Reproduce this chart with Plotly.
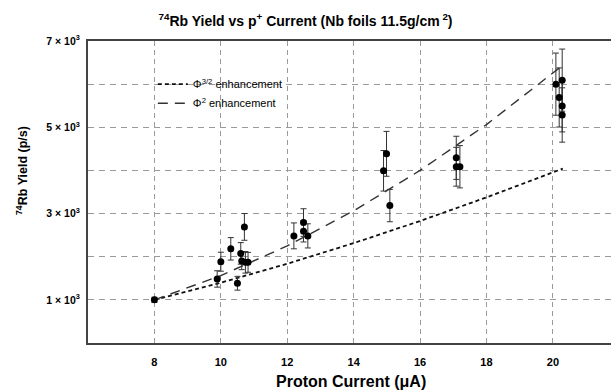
import plotly.graph_objects as go

# Measured data
current = [8.0, 9.89, 10.0, 10.30, 10.50, 10.60, 10.63, 10.71, 10.74, 10.82,
           12.2, 12.49, 12.49, 12.62, 14.90, 14.99, 15.09, 17.09, 17.09, 17.2,
           20.09, 20.19, 20.28, 20.28, 20.28]
yield_ps = [1000, 1484, 1884, 2183, 1385, 2077, 1900, 2691, 1870, 1870,
            2483, 2792, 2592, 2483, 3992, 4385, 3185, 4292, 4085, 4085,
            6000, 5691, 6093, 5493, 5285]
yield_err = [60, 190, 220, 260, 160, 250, 200, 310, 250, 230,
             300, 320, 250, 280, 470, 520, 375, 500, 450, 490,
             720, 685, 720, 600, 630]

# Enhancement curves
curve_x = [8, 10, 12, 14, 16, 18, 20.3]
phi32_y = [1000, 1398, 1837, 2315, 2828, 3375, 4042]
phi2_y = [1000, 1563, 2250, 3063, 4000, 5063, 6439]

x_ticks = [8, 10, 12, 14, 16, 18, 20]
y_ticks = [1000, 2000, 3000, 4000, 5000, 6000, 7000]
y_ticktext = ["1 × 10<sup>3</sup>", "", "3 × 10<sup>3</sup>", "",
              "5 × 10<sup>3</sup>", "", "7 × 10<sup>3</sup>"]

FONT = "Liberation Sans, Arial, sans-serif"

fig = go.Figure()
fig.add_trace(go.Scatter(
    x=curve_x, y=phi32_y, mode="lines", name="Φ<sup>3/2</sup> enhancement",
    line=dict(color="#111", width=1.8, dash="4px,3px"), hoverinfo="skip"))
fig.add_trace(go.Scatter(
    x=curve_x, y=phi2_y, mode="lines", name="Φ<sup>2</sup> enhancement",
    line=dict(color="#333", width=1.4, dash="10px,7px"), hoverinfo="skip"))
fig.add_trace(go.Scatter(
    x=current, y=yield_ps, mode="markers", showlegend=False,
    marker=dict(color="black", size=7),
    error_y=dict(type="data", array=yield_err, visible=True,
                 color="#333", thickness=1, width=3)))

fig.update_layout(
    width=611, height=391,
    margin=dict(l=88, r=0, t=41, b=48),
    paper_bgcolor="white", plot_bgcolor="white",
    font=dict(family=FONT, color="black"),
    title=dict(text="<b><sup>74</sup>Rb Yield vs p<sup>+</sup> Current (Nb foils 11.5g/cm<sup> 2</sup>)</b>",
               x=0.5, xref="container", xanchor="center",
               y=1 - 21 / 391, yref="container", yanchor="middle",
               font=dict(size=14, family=FONT, color="black")),
    showlegend=True,
    legend=dict(x=0.124, y=0.905, xanchor="left", yanchor="top",
                bgcolor="rgba(0,0,0,0)", borderwidth=0,
                font=dict(size=11, family=FONT, color="black"),
                tracegroupgap=0),
    xaxis=dict(range=[6, 21.75], tickvals=x_ticks,
               ticktext=["<b>%d</b>" % v for v in x_ticks],
               tickfont=dict(size=11, family=FONT, color="black"),
               ticks="outside", ticklen=8, tickcolor="rgba(0,0,0,0)",
               showgrid=True, gridcolor="#9a9a9a", gridwidth=1, griddash="5px,4px",
               showline=True, linecolor="#444", linewidth=2, mirror=True,
               zeroline=False),
    yaxis=dict(range=[0, 7000], tickvals=y_ticks,
               ticktext=["<b>%s</b>" % t if t else "" for t in y_ticktext],
               tickfont=dict(size=10.5, family=FONT, color="black"),
               ticks="outside", ticklen=4, tickcolor="rgba(0,0,0,0)",
               showgrid=True, gridcolor="#9a9a9a", gridwidth=1, griddash="6px,5px",
               showline=True, linecolor="#444", linewidth=2, mirror=False,
               zeroline=False),
    annotations=[
        dict(text="<b>Proton Current (μA)</b>", xref="paper", yref="paper",
             x=(351 - 88) / 523, y=-(381 - 343) / 302, xanchor="center", yanchor="middle",
             showarrow=False, font=dict(size=16, family=FONT, color="black")),
        dict(text="<b><sup>74</sup>Rb Yield (p/s)</b>", xref="paper", yref="paper",
             x=-(88 - 22) / 523, y=(343 - 171) / 302, xanchor="center", yanchor="middle",
             textangle=-90, showarrow=False,
             font=dict(size=12.5, family=FONT, color="black")),
    ],
)

fig.write_html("out.html", config={"displayModeBar": False},
               post_script="document.body.style.margin='0';")
